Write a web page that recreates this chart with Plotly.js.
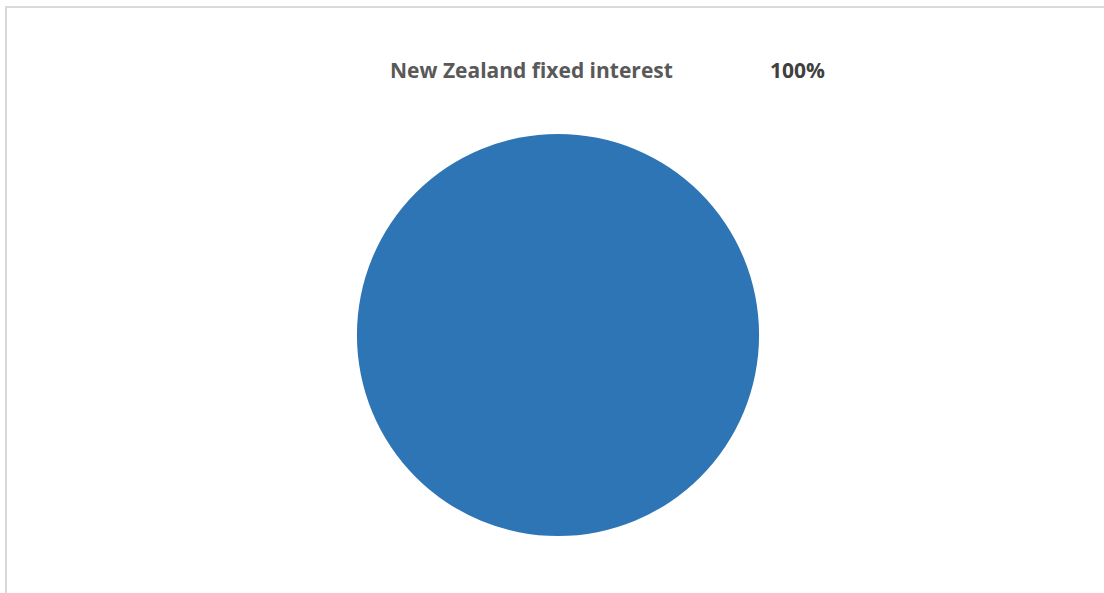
<!DOCTYPE html>
<html>
<head>
<meta charset="utf-8">
<script src="https://cdn.plot.ly/plotly-3.0.1.min.js"></script>
<style>html,body{margin:0;padding:0;background:#fff;}#chart{width:1104px;height:593px;}</style>
</head>
<body>
<div id="chart"></div>
<script>
const labels = ["New Zealand fixed interest"];
const values = [100];
const colors = ["#2E75B6"];

const total = values.reduce((a, b) => a + b, 0);
const pctText = values.map(v => Math.round(v / total * 100) + "%");

const W = 1104, H = 593;

const trace = {
  type: "pie",
  labels: labels,
  values: values,
  marker: {colors: colors, line: {width: 0}},
  textinfo: "none",
  hoverinfo: "label+percent",
  sort: false,
  showlegend: false,
  domain: {x: [357 / W, 759 / W], y: [1 - 536 / H, 1 - 134 / H]}
};

const layout = {
  width: W,
  height: H,
  margin: {l: 0, r: 0, t: 0, b: 0},
  paper_bgcolor: "#ffffff",
  plot_bgcolor: "#ffffff",
  showlegend: false,
  shapes: [{
    type: "rect", xref: "paper", yref: "paper",
    x0: 6 / W, x1: 1.02, y0: -0.02, y1: 1 - 7 / H,
    line: {color: "#d9d9d9", width: 2}, fillcolor: "rgba(0,0,0,0)"
  }],
  annotations: [
    {
      xref: "paper", yref: "paper", x: 531 / W, y: 1 - 70 / H,
      xanchor: "center", yanchor: "middle", showarrow: false,
      text: "<b>" + labels[0] + "</b>",
      font: {family: "Open Sans, Liberation Sans, sans-serif", size: 21, color: "#595959"}
    },
    {
      xref: "paper", yref: "paper", x: 797 / W, y: 1 - 70 / H,
      xanchor: "center", yanchor: "middle", showarrow: false,
      text: "<b>" + pctText[0] + "</b>",
      font: {family: "Open Sans, Liberation Sans, sans-serif", size: 21, color: "#404040"}
    }
  ]
};

Plotly.newPlot("chart", [trace], layout, {displayModeBar: false, staticPlot: true});
</script>
</body>
</html>
